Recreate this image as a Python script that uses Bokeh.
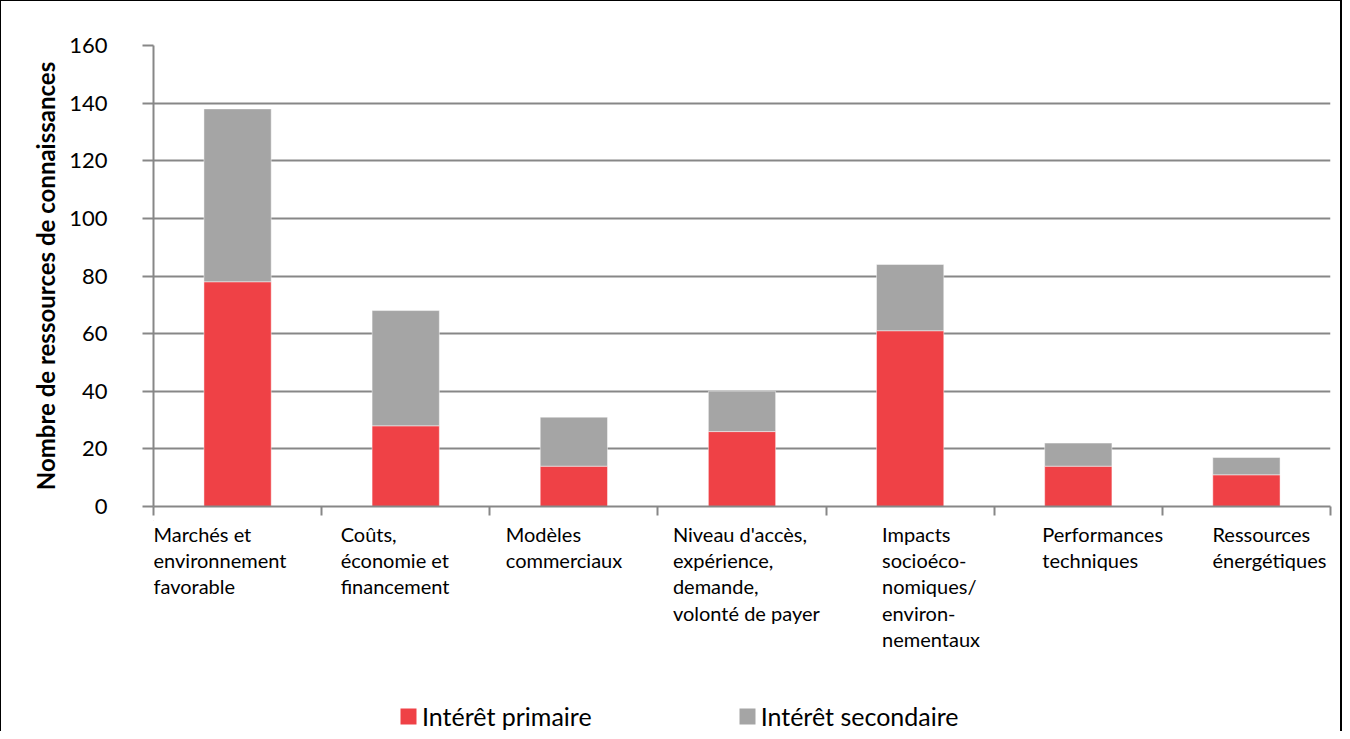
from bokeh.plotting import figure
from bokeh.layouts import column
from bokeh.models import (ColumnDataSource, FixedTicker, Legend, LegendItem, LinearAxis, Range1d)
from bokeh.core.properties import value
from bokeh.embed import file_html
from bokeh.resources import INLINE

# ---- data ----
categories = [
    "Marchés et\nenvironnement\nfavorable",
    "Coûts,\néconomie et\nfinancement",
    "Modèles\ncommerciaux",
    "Niveau d'accès,\nexpérience,\ndemande,\nvolonté de payer",
    "Impacts\nsocioéco-\nnomiques/\nenviron-\nnementaux",
    "Performances\ntechniques",
    "Ressources\nénergétiques",
]
primaire = [78, 28, 14, 26, 61, 14, 11]
secondaire = [60, 40, 17, 14, 23, 8, 6]
series_names = ["Intérêt primaire", "Intérêt secondaire"]
y_ticks = [0, 20, 40, 60, 80, 100, 120, 140, 160]
y_title = "Nombre de ressources de connaissances"

# ---- layout / style constants ----
RED = "#EF4146"
GREY = "#A5A5A5"
GRID = "#878787"
FONT = "Lato"
label_offsets = [0.0, 0.113, 0.095, 0.089, 0.333, 0.286, 0.298]  # left edge of each label block in its slot
bar_width = 0.4
W = 1342
TOP_H = 520
BOT_H = 211
LABEL_TOP_PX = 1

n = len(categories)
xc = [i + 0.5 for i in range(n)]
top_total = [a + b for a, b in zip(primaire, secondaire)]
src = ColumnDataSource(dict(x=xc, p=primaire, s=secondaire, tot=top_total, zero=[0] * n))

# ---------- main chart ----------
p = figure(width=W, height=TOP_H, output_backend="svg", toolbar_location=None,
           x_range=Range1d(0, n), y_range=Range1d(0, 160),
           min_border_left=152, min_border_right=13, min_border_top=44, min_border_bottom=15,
           x_axis_location=None, y_axis_location=None)
p.outline_line_color = None
p.styles = {"border-left": "1px solid #000", "border-top": "1px solid #000",
            "border-right": "2px solid #000", "box-sizing": "border-box"}

r1 = p.vbar(x="x", bottom="zero", top="p", width=bar_width, source=src,
            fill_color=RED, line_color="white", line_alpha=0.45, line_width=1)
r2 = p.vbar(x="x", bottom="p", top="tot", width=bar_width, source=src,
            fill_color=GREY, line_color="white", line_alpha=0.45, line_width=1)

yaxis = LinearAxis(ticker=FixedTicker(ticks=y_ticks))
yaxis.axis_line_color = GRID
yaxis.axis_line_width = 2
yaxis.major_tick_line_color = GRID
yaxis.major_tick_line_width = 2
yaxis.major_tick_out = 11
yaxis.major_tick_in = 0
yaxis.minor_tick_line_color = None
yaxis.major_label_standoff = 35
yaxis.major_label_text_font = FONT
yaxis.major_label_text_font_size = "22px"
yaxis.major_label_text_color = "#000000"
yaxis.axis_label = y_title
yaxis.axis_label_text_font = FONT
yaxis.axis_label_text_font_style = "bold"
yaxis.axis_label_text_font_size = "24px"
yaxis.axis_label_text_color = "#000000"
yaxis.axis_label_standoff = 6
p.add_layout(yaxis, "left")

xaxis = LinearAxis(ticker=FixedTicker(ticks=list(range(n + 1))))
xaxis.axis_line_color = GRID
xaxis.axis_line_width = 2
xaxis.major_tick_line_color = GRID
xaxis.major_tick_line_width = 2
xaxis.major_tick_out = 9
xaxis.major_tick_in = 0
xaxis.minor_tick_line_color = None
xaxis.major_label_text_color = None
xaxis.major_label_text_font_size = "1px"
xaxis.major_label_standoff = 0
p.add_layout(xaxis, "below")

p.ygrid.grid_line_color = GRID
p.ygrid.grid_line_width = 2
p.ygrid.ticker = FixedTicker(ticks=y_ticks)
p.xgrid.grid_line_color = None
p.ygrid.level = "underlay"

# ---------- category labels + legend strip ----------
p2 = figure(width=W, height=BOT_H, output_backend="svg", toolbar_location=None,
            x_range=p.x_range, y_range=Range1d(BOT_H, 0),
            min_border_left=152, min_border_right=13, min_border_top=0, min_border_bottom=0,
            x_axis_location=None, y_axis_location=None)
p2.outline_line_color = None
p2.grid.grid_line_color = None
p2.styles = {"border-left": "1px solid #000", "border-right": "2px solid #000",
             "box-sizing": "border-box"}

lab_src = ColumnDataSource(dict(x=[i + d for i, d in enumerate(label_offsets)],
                                y=[LABEL_TOP_PX] * n, text=categories))
p2.text(x="x", y="y", text="text", source=lab_src, text_align="left", text_baseline="top",
        text_font=value(FONT), text_font_size="20px", text_line_height=1.1, text_color="#000000")

# off-view proxies (same styling as the bars) so the legend gets its swatches
proxy = ColumnDataSource(dict(x=[-10.0], b=[-10.0], t=[-9.0]))
e1 = p2.vbar(x="x", bottom="b", top="t", width=0.1, source=proxy, fill_color=RED, line_color=None)
e2 = p2.vbar(x="x", bottom="b", top="t", width=0.1, source=proxy, fill_color=GREY, line_color=None)
legend = Legend(items=[LegendItem(label=series_names[0], renderers=[e1]),
                       LegendItem(label=series_names[1], renderers=[e2])],
                orientation="horizontal", location=(245, 0))
legend.glyph_width = 20
legend.glyph_height = 20
legend.label_standoff = 4
legend.spacing = 145
legend.padding = 0
legend.margin = 0
legend.border_line_color = None
legend.background_fill_alpha = 0
legend.label_text_font = FONT
legend.label_text_font_size = "25px"
legend.label_text_color = "#000000"
p2.add_layout(legend, "center")

layout = column(p, p2, spacing=0)
open("out.html", "w").write(file_html(layout, INLINE))
